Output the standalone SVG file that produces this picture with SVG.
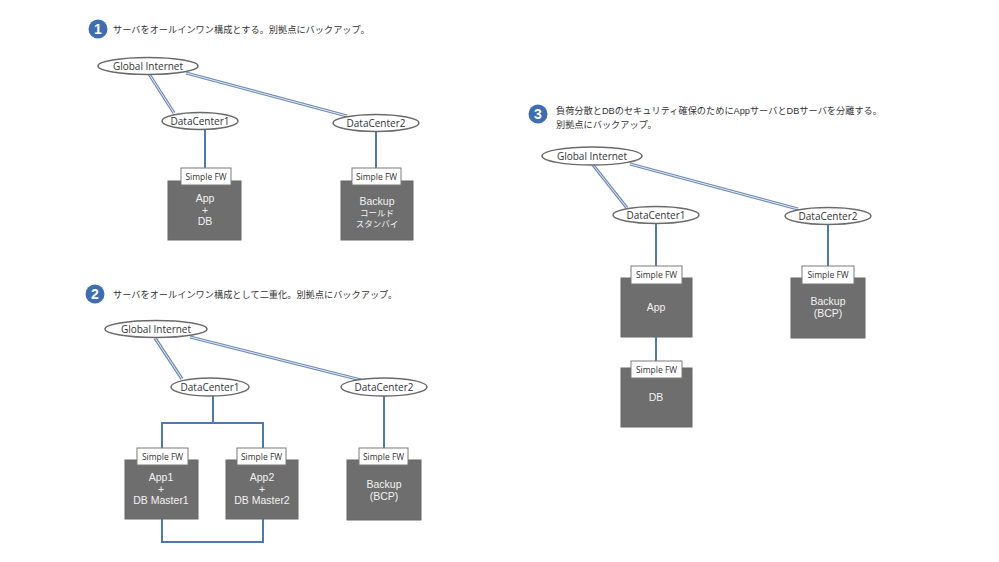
<svg xmlns="http://www.w3.org/2000/svg" width="999" height="562" viewBox="0 0 999 562">
<style>
.bg{fill:#ffffff}
.num{fill:#3e6db0}
.numt{fill:#ffffff;font-family:"Liberation Sans",Arial,sans-serif;font-size:14px;font-weight:bold;text-anchor:middle}
.title{fill:#333333;font-family:"Liberation Sans","Noto Sans CJK JP",sans-serif;font-size:9.2px}
.ell{fill:#ffffff;stroke:#6a6a6a;stroke-width:1.5}
.ellt{fill:#333333;font-family:"Open Sans","Noto Sans",sans-serif;font-size:10px;text-anchor:middle}
.srv{fill:#6e6e6e;stroke:#666666;stroke-width:1}
.srvt{fill:#f2f2f2;font-family:"Liberation Sans",Arial,"Noto Sans CJK JP",sans-serif;font-size:10.5px;text-anchor:middle}
.srvj{fill:#f2f2f2;font-family:"Liberation Sans","Noto Sans CJK JP",sans-serif;font-size:8.5px;text-anchor:middle}
.fw{fill:#ffffff;stroke:#7a7a7a;stroke-width:1}
.fwt{fill:#333333;font-family:"Open Sans","Noto Sans",sans-serif;font-size:8.5px;text-anchor:middle}
.dbl-o{fill:none;stroke:#6f8cb3;stroke-width:3.2}
.dbl-i{fill:none;stroke:#e4ebf4;stroke-width:1}
.ln{fill:none;stroke:#4f79ad;stroke-width:2}
</style>
<rect class="bg" x="0" y="0" width="999" height="562"/>

<g id="connectors">
  <line class="dbl-o" x1="149" y1="74" x2="174" y2="113"/>
  <line class="dbl-i" x1="149" y1="74" x2="174" y2="113"/>
  <line class="dbl-o" x1="186" y1="73" x2="347" y2="116"/>
  <line class="dbl-i" x1="186" y1="73" x2="347" y2="116"/>
  <line class="ln" x1="205" y1="130" x2="205" y2="168"/>
  <line class="ln" x1="376" y1="132" x2="376" y2="168"/>
  <line class="dbl-o" x1="155" y1="338" x2="182" y2="379"/>
  <line class="dbl-i" x1="155" y1="338" x2="182" y2="379"/>
  <line class="dbl-o" x1="190" y1="337" x2="361" y2="380"/>
  <line class="dbl-i" x1="190" y1="337" x2="361" y2="380"/>
  <polyline class="ln" points="213,396 213,423"/>
  <polyline class="ln" points="162,448 162,423 263,423 263,448"/>
  <polyline class="ln" points="162,519 162,542 263,542 263,519"/>
  <line class="ln" x1="384" y1="396" x2="384" y2="448"/>
  <line class="dbl-o" x1="593" y1="165" x2="627" y2="208"/>
  <line class="dbl-i" x1="593" y1="165" x2="627" y2="208"/>
  <line class="dbl-o" x1="630" y1="164" x2="798" y2="209"/>
  <line class="dbl-i" x1="630" y1="164" x2="798" y2="209"/>
  <line class="ln" x1="656" y1="224" x2="656" y2="266"/>
  <line class="ln" x1="828" y1="225" x2="828" y2="266"/>
  <line class="ln" x1="656" y1="337" x2="656" y2="361"/>
</g>

<g id="title1">
  <circle class="num" cx="98" cy="29" r="9.5"/>
  <text class="numt" x="98" y="34">1</text>
  <text class="title" x="113" y="33">サーバをオールインワン構成とする。別拠点にバックアップ。</text>
</g>
<g id="s1-gi">
  <ellipse class="ell" cx="148" cy="66" rx="50" ry="8.5"/>
  <text class="ellt" x="148" y="70">Global Internet</text>
</g>
<g id="s1-dc1">
  <ellipse class="ell" cx="200" cy="121" rx="38" ry="8.5"/>
  <text class="ellt" x="200" y="125">DataCenter1</text>
</g>
<g id="s1-dc2">
  <ellipse class="ell" cx="376" cy="123" rx="43" ry="8.5"/>
  <text class="ellt" x="376" y="127">DataCenter2</text>
</g>
<g id="s1-app">
  <rect class="srv" x="168" y="181" width="73" height="59"/>
  <rect class="fw" x="181" y="168" width="50" height="17"/>
  <text class="fwt" x="206" y="180">Simple FW</text>
  <text class="srvt" x="205" y="202">App</text>
  <text class="srvt" x="205" y="213.5">+</text>
  <text class="srvt" x="205" y="225">DB</text>
</g>
<g id="s1-backup">
  <rect class="srv" x="341" y="181" width="72" height="59"/>
  <rect class="fw" x="352" y="168" width="49" height="17"/>
  <text class="fwt" x="376.5" y="180">Simple FW</text>
  <text class="srvt" x="377" y="205">Backup</text>
  <text class="srvj" x="377" y="216">コールド</text>
  <text class="srvj" x="377" y="226.5">スタンバイ</text>
</g>

<g id="title2">
  <circle class="num" cx="95" cy="294" r="9.5"/>
  <text class="numt" x="95" y="299">2</text>
  <text class="title" x="113" y="298">サーバをオールインワン構成として二重化。別拠点にバックアップ。</text>
</g>
<g id="s2-gi">
  <ellipse class="ell" cx="156" cy="329" rx="51" ry="8.5"/>
  <text class="ellt" x="156" y="333">Global Internet</text>
</g>
<g id="s2-dc1">
  <ellipse class="ell" cx="210" cy="387" rx="39" ry="9"/>
  <text class="ellt" x="210" y="391">DataCenter1</text>
</g>
<g id="s2-dc2">
  <ellipse class="ell" cx="384" cy="387" rx="43" ry="9"/>
  <text class="ellt" x="384" y="391">DataCenter2</text>
</g>
<g id="s2-app1">
  <rect class="srv" x="125" y="460" width="73" height="59"/>
  <rect class="fw" x="137" y="448" width="51" height="17"/>
  <text class="fwt" x="162.5" y="460">Simple FW</text>
  <text class="srvt" x="161" y="481">App1</text>
  <text class="srvt" x="161" y="492.5">+</text>
  <text class="srvt" x="161" y="504">DB Master1</text>
</g>
<g id="s2-app2">
  <rect class="srv" x="226" y="460" width="72" height="59"/>
  <rect class="fw" x="237" y="448" width="49" height="17"/>
  <text class="fwt" x="261.5" y="460">Simple FW</text>
  <text class="srvt" x="262" y="481">App2</text>
  <text class="srvt" x="262" y="492.5">+</text>
  <text class="srvt" x="262" y="504">DB Master2</text>
</g>
<g id="s2-backup">
  <rect class="srv" x="347" y="460" width="74" height="60"/>
  <rect class="fw" x="359" y="448" width="49" height="17"/>
  <text class="fwt" x="383.5" y="460">Simple FW</text>
  <text class="srvt" x="384" y="488">Backup</text>
  <text class="srvt" x="384" y="500">(BCP)</text>
</g>

<g id="title3">
  <circle class="num" cx="538" cy="114" r="9.5"/>
  <text class="numt" x="538" y="119">3</text>
  <text class="title" x="556" y="114">負荷分散とDBのセキュリティ確保のためにAppサーバとDBサーバを分離する。</text>
  <text class="title" x="556" y="128">別拠点にバックアップ。</text>
</g>
<g id="s3-gi">
  <ellipse class="ell" cx="592" cy="156" rx="50" ry="9"/>
  <text class="ellt" x="592" y="160">Global Internet</text>
</g>
<g id="s3-dc1">
  <ellipse class="ell" cx="656" cy="215" rx="43" ry="8.5"/>
  <text class="ellt" x="656" y="219">DataCenter1</text>
</g>
<g id="s3-dc2">
  <ellipse class="ell" cx="828" cy="216" rx="43" ry="8.5"/>
  <text class="ellt" x="828" y="220">DataCenter2</text>
</g>
<g id="s3-app">
  <rect class="srv" x="621" y="278" width="71" height="59"/>
  <rect class="fw" x="631" y="266" width="51" height="18"/>
  <text class="fwt" x="656.5" y="278">Simple FW</text>
  <text class="srvt" x="656" y="311">App</text>
</g>
<g id="s3-db">
  <rect class="srv" x="621" y="368" width="71" height="59"/>
  <rect class="fw" x="631" y="361" width="51" height="17"/>
  <text class="fwt" x="656.5" y="373">Simple FW</text>
  <text class="srvt" x="656" y="401">DB</text>
</g>
<g id="s3-backup">
  <rect class="srv" x="791" y="278" width="74" height="60"/>
  <rect class="fw" x="802" y="266" width="52" height="18"/>
  <text class="fwt" x="828" y="278">Simple FW</text>
  <text class="srvt" x="828" y="305">Backup</text>
  <text class="srvt" x="828" y="317">(BCP)</text>
</g>
</svg>
